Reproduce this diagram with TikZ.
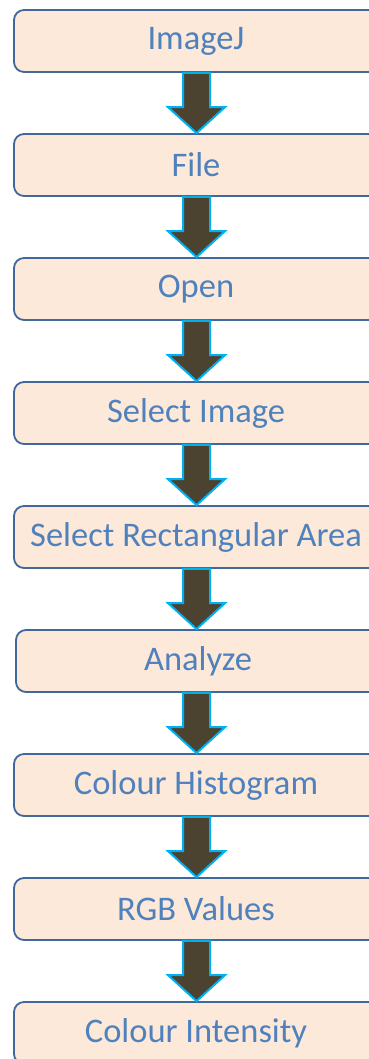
\documentclass[tikz,border=0pt]{standalone}
\usepackage{fontspec}
\setmainfont{Carlito}
\usetikzlibrary{calc}
\definecolor{boxfill}{HTML}{FDE9D9}
\definecolor{boxdraw}{HTML}{41689A}
\definecolor{txt}{HTML}{4F81BD}
\definecolor{arrfill}{HTML}{4B4330}
\definecolor{arrdraw}{HTML}{00B0F0}
\tikzset{
  stepbox/.style={draw=boxdraw, line width=1.8pt, fill=boxfill, rounded corners=10pt,
    minimum width=364pt, minimum height=62pt, inner sep=0pt, text=txt,
    font=\fontsize{34.5}{40}\selectfont},
  bigarrow/.style={draw=arrdraw, line width=2pt, fill=arrfill, line join=miter}
}
\newcommand{\flowarrow}[2]{%
  \coordinate (s#1) at (196.5,0 |- #1.south);
  \coordinate (e#2) at (196.5,0 |- #2.north);
  \draw[bigarrow] ($(s#1)+(-13.5,0)$) -- ($(s#1)+(13.5,0)$)
    -- ($(e#2)+(13.5,26)$) -- ($(e#2)+(28.5,26)$)
    -- (e#2) -- ($(e#2)+(-28.5,26)$) -- ($(e#2)+(-13.5,26)$) -- cycle;}
\begin{document}
\begin{tikzpicture}[x=1pt,y=1pt]
\useasboundingbox (0,0) rectangle (369,1059);
\clip (0,0) rectangle (369,1059);
\fill[white] (0,0) rectangle (369,1059);
\node[stepbox] (n1) at (196,1018) {ImageJ};
\node[stepbox] (n2) at (196,894) {File};
\node[stepbox] (n3) at (196,770) {Open};
\node[stepbox] (n4) at (196,646) {Select Image};
\node[stepbox] (n5) at (196,522) {Select Rectangular Area};
\node[stepbox] (n6) at (198,398) {Analyze};
\node[stepbox] (n7) at (196,274) {Colour Histogram};
\node[stepbox] (n8) at (196,150) {RGB Values};
\node[stepbox] (n9) at (196,26) {Colour Intensity};
\flowarrow{n1}{n2}
\flowarrow{n2}{n3}
\flowarrow{n3}{n4}
\flowarrow{n4}{n5}
\flowarrow{n5}{n6}
\flowarrow{n6}{n7}
\flowarrow{n7}{n8}
\flowarrow{n8}{n9}
\end{tikzpicture}
\end{document}
